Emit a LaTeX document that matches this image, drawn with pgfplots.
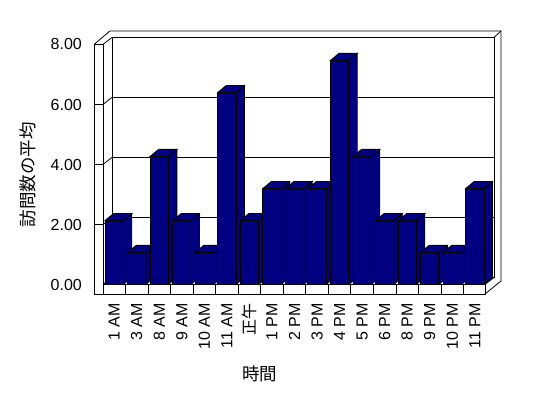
\documentclass[border=0pt]{standalone}
\usepackage{fontspec}
\setmainfont{Liberation Sans}
\newfontfamily\cjk{Noto Sans CJK JP}
\usepackage{pgfplots}
\pgfplotsset{compat=1.18}
\definecolor{navy}{RGB}{0,0,128}
\newdimen\barh
\pgfdeclareplotmark{box3d}{%
  \pgfmathsetlength\barh{\rawy*30bp}%
  \pgfsetfillcolor{navy}\pgfsetstrokecolor{black}%
  % side face
  \pgfpathmoveto{\pgfpoint{9.15bp}{-\barh}}%
  \pgfpathlineto{\pgfpoint{17.65bp}{7bp-\barh}}%
  \pgfpathlineto{\pgfpoint{17.65bp}{7bp}}%
  \pgfpathlineto{\pgfpoint{9.15bp}{0bp}}%
  \pgfpathclose
  \pgfusepath{fill,stroke}%
  % top face
  \pgfpathmoveto{\pgfpoint{-9.15bp}{0bp}}%
  \pgfpathlineto{\pgfpoint{9.15bp}{0bp}}%
  \pgfpathlineto{\pgfpoint{17.65bp}{7bp}}%
  \pgfpathlineto{\pgfpoint{-0.65bp}{7bp}}%
  \pgfpathclose
  \pgfusepath{fill,stroke}%
  % front face
  \pgfpathrectanglecorners{\pgfpoint{-9.15bp}{-\barh}}{\pgfpoint{9.15bp}{0bp}}%
  \pgfusepath{fill,stroke}%
}
\pgfplotstableread{
x v
0 2.13
1 1.07
2 4.27
3 2.13
4 1.07
5 6.40
6 2.13
7 3.20
8 3.20
9 3.20
10 7.47
11 4.27
12 2.13
13 2.13
14 1.07
15 1.07
16 3.20
}\visits
\begin{document}
\begin{tikzpicture}
\path[use as bounding box] (-102.9bp,-113.5bp) rectangle (445.1bp,284.5bp);
% back wall with grid
\begin{axis}[at={(9bp,7bp)}, anchor=south west, x=22.54bp, y=30bp,
  xmin=-0.5, xmax=16.45, ymin=0, ymax=8,
  xtick=\empty, ytick={2,4,6}, yticklabels={},
  ymajorgrids, grid style={black, line width=0.8bp},
  axis line style={line width=0.8bp}, tick style={draw=none}]
\addplot[draw=none] coordinates {(0,0)};
\end{axis}
% walls and floor
\begin{scope}[line width=0.8bp, x=1bp, y=1bp]
  \draw[fill=white] (-8.9,-9.5) rectangle (0,240);
  \draw[fill=white] (0,-9.5) rectangle (382.1,0);
  \foreach \t in {60,120,180}{
    \draw (-8.9,\t) -- (0,\t) -- (9,\t+7);
  }
  \draw (0,240) -- (9,247);
  \draw (0,0) -- (9,7);
  \foreach \k in {1,...,16}{
    \draw (22.54*\k,-9.5) -- (22.54*\k,0);
  }
  \draw (-8.9,240) -- (7,253.5) -- (398.1,253.5) -- (398.1,3.5) -- (382.1,-9.5);
  \draw (391.05,247) -- (398.1,253.5);
  \draw (382.1,0) -- (391.05,7);
\end{scope}
% bars and labels
\begin{axis}[at={(0,0)}, anchor=south west, x=22.54bp, y=30bp,
  xmin=-0.5, xmax=16.5, ymin=0, ymax=8, clip=false,
  axis line style={draw=none}, tick style={draw=none},
  ytick={0,2,4,6,8},
  /pgf/number format/fixed, /pgf/number format/fixed zerofill,
  /pgf/number format/precision=2, /pgf/number format/assume math mode=true,
  yticklabel style={anchor=east, inner sep=0pt, font=\fontsize{16bp}{18bp}\selectfont},
  yticklabel shift=20.9bp,
  xtick={0,...,16},
  xticklabels={1 AM,3 AM,8 AM,9 AM,10 AM,11 AM,{\cjk 正午},1 PM,2 PM,3 PM,4 PM,5 PM,6 PM,8 PM,9 PM,10 PM,11 PM},
  xticklabel style={rotate=90, anchor=east, inner sep=0pt, font=\fontsize{16bp}{18bp}\selectfont},
  xticklabel shift=18.5bp]
\addplot[ybar, bar width=18.3bp, fill=navy, draw=black, line width=0.8bp] table[x=x,y=v] {\visits};
\addplot[only marks, mark=box3d, line width=0.8bp,
  visualization depends on={\thisrow{v} \as \rawy}] table[x=x,y=v] {\visits};
\end{axis}
\node[rotate=90, font=\cjk\fontsize{17.5bp}{20bp}\selectfont] at (-74.6bp,109.5bp) {訪問数の平均};
\node[font=\cjk\fontsize{17.5bp}{20bp}\selectfont] at (156.6bp,-89.5bp) {時間};
\end{tikzpicture}
\end{document}
